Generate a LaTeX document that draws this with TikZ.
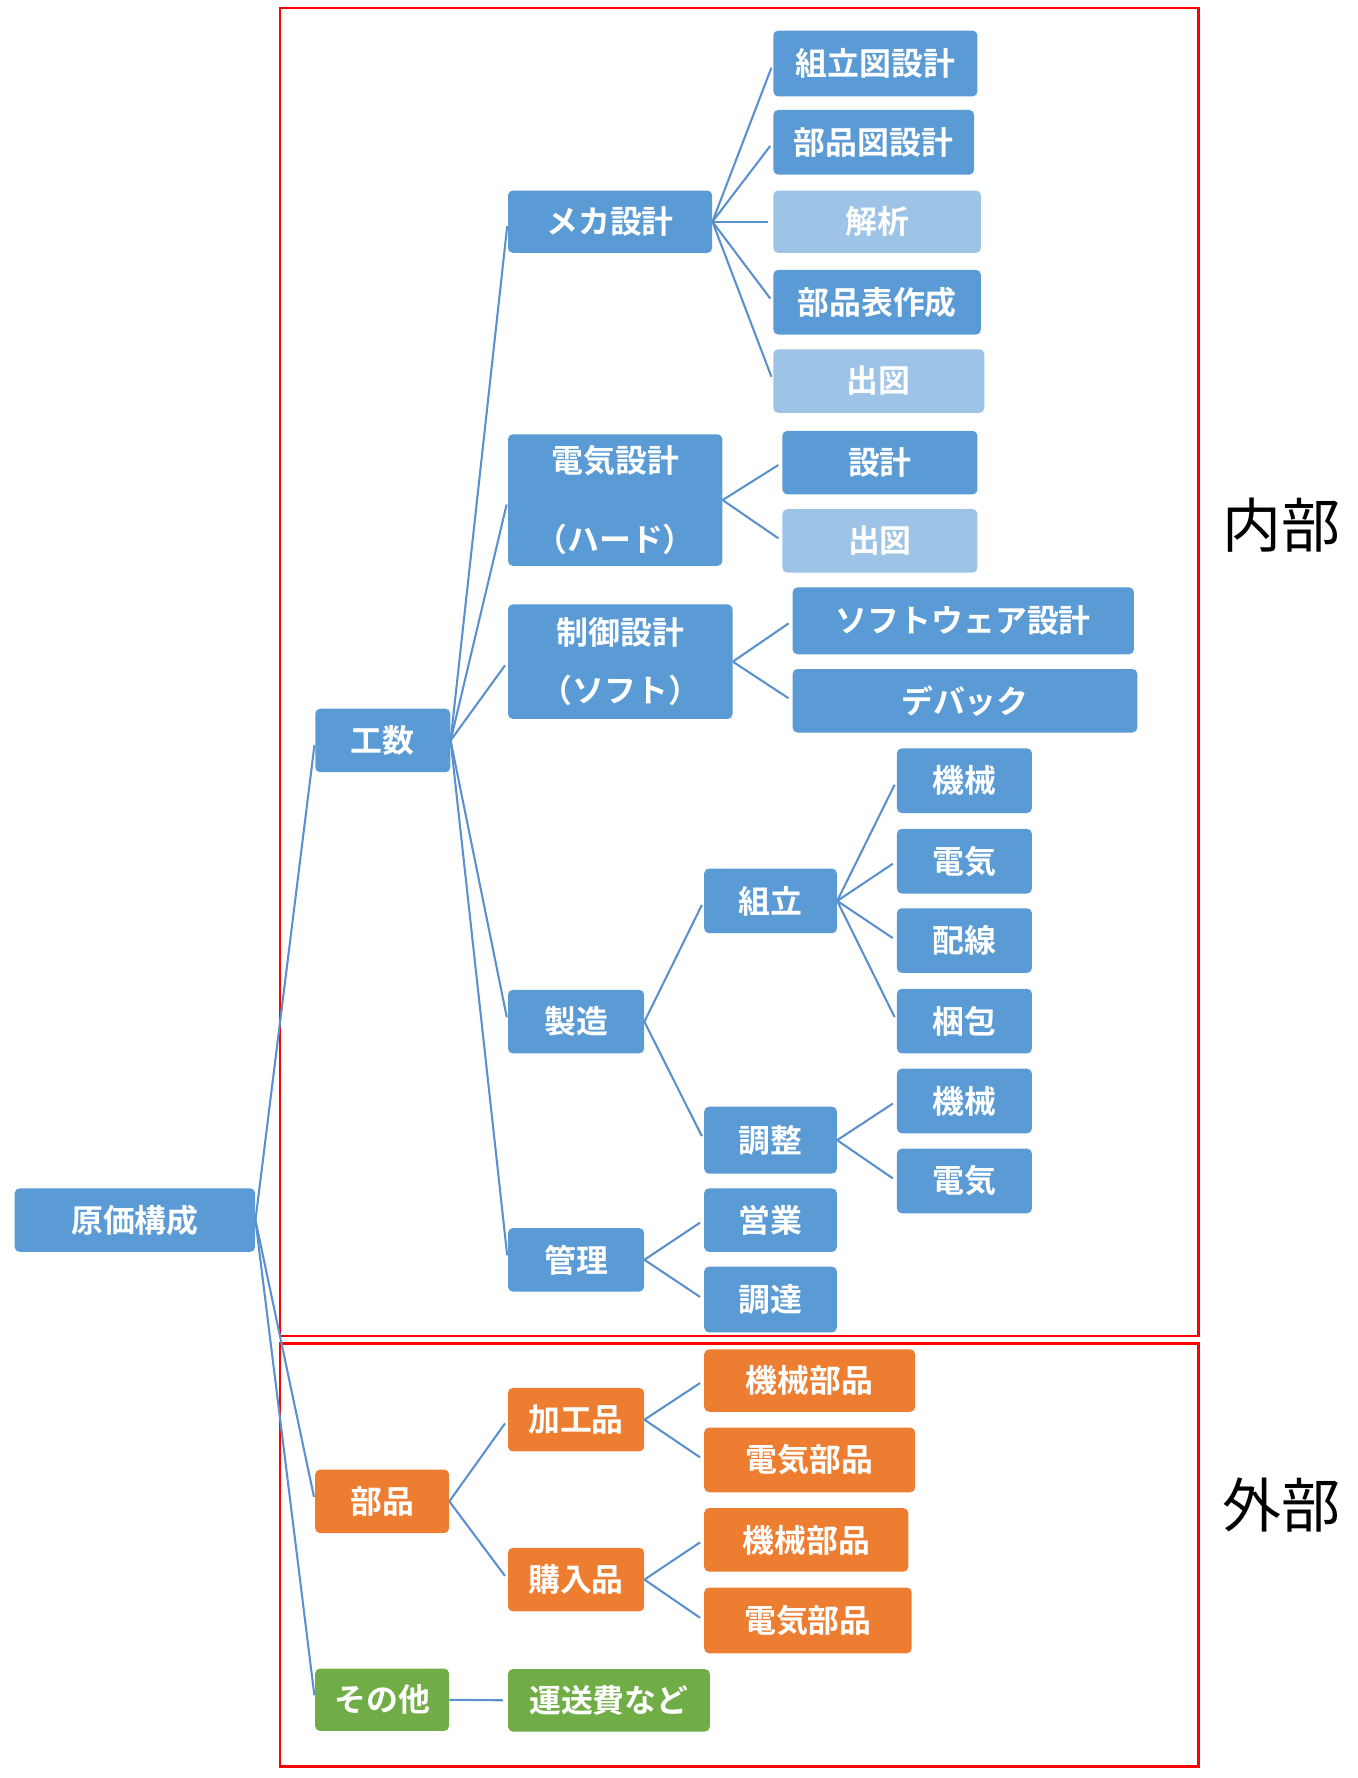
\documentclass[tikz,border=0pt]{standalone}
\usepackage{fontspec}
\newfontfamily\jp{Noto Sans CJK JP}[BoldFont={Noto Sans CJK JP Bold}]
\usetikzlibrary{positioning}
\definecolor{blu}{HTML}{5B9BD5}
\definecolor{lblu}{HTML}{9DC3E6}
\definecolor{orng}{HTML}{ED7D31}
\definecolor{grn}{HTML}{70AD47}
\definecolor{lnc}{HTML}{5A90CC}

\begin{document}
\begin{tikzpicture}[
    box/.style={fill=blu,rounded corners=3pt,text=white,inner sep=0pt,
      font=\jp\bfseries\fontsize{20}{24}\selectfont,align=center,minimum height=1.4cm},
    lbox/.style={box,fill=lblu},
    obox/.style={box,fill=orng},
    gbox/.style={box,fill=grn},
    ln/.style={lnc,line width=1.3pt,shorten >=0.1cm},
    area/.style={red,line width=1.6pt}]
  \useasboundingbox (0,0) rectangle (29.925,-39.2);
  \draw[area] (6.175,-0.175) rectangle (26.425,-29.45);
  \draw[area] (6.175,-29.625) rectangle (26.425,-38.95);
  \node[font=\jp\fontsize{37}{40}\selectfont] (naibu) at (28.25,-11.575) {内部};
  \node[font=\jp\fontsize{37}{40}\selectfont] (gaibu) at (28.25,-33.175) {外部};

  % root and first level
  \node[box,minimum width=5.3cm] (root) at (2.975,-26.9) {原価構成};
  \node[box,minimum width=2.975cm] (kosu) at (8.44,-16.325) {工数};
  \node[obox,minimum width=2.95cm] (buhin) at (8.425,-33.1) {部品};
  \node[gbox,minimum width=2.95cm,minimum height=1.375cm] (sonota) at (8.425,-37.475) {その他};

  % second level
  \node[box,minimum width=4.5cm,minimum height=1.375cm] (meka) at (13.45,-4.8875) {メカ設計};
  \node[box,minimum width=4.725cm,minimum height=2.9cm] (hard) at (13.5625,-11.025) {電気設計\\[0.9cm]（ハード）};
  \node[box,minimum width=4.95cm,minimum height=2.525cm] (seigyo) at (13.675,-14.5875) {制御設計\\[0.43cm]（ソフト）};
  \node[box,minimum width=3cm] (seizo) at (12.7,-22.525) {製造};
  \node[box,minimum width=3cm] (kanri) at (12.7,-27.775) {管理};
  \node[obox,minimum width=3cm] (kako) at (12.7,-31.3) {加工品};
  \node[obox,minimum width=3cm] (konyu) at (12.7,-34.825) {購入品};
  \node[gbox,minimum width=4.45cm,minimum height=1.375cm] (unso) at (13.425,-37.4875) {運送費など};

  % third level
  \node[box,minimum width=4.5cm,minimum height=1.45cm] (kumizu) at (19.3,-1.4) {組立図設計};
  \node[box,minimum width=4.425cm,minimum height=1.425cm] (buhinzu) at (19.2625,-3.1375) {部品図設計};
  \node[lbox,minimum width=4.575cm,minimum height=1.375cm] (kaiseki) at (19.3375,-4.8875) {解析};
  \node[box,minimum width=4.575cm,minimum height=1.425cm] (buhinhyo) at (19.3375,-6.6625) {部品表作成};
  \node[lbox,minimum width=4.65cm] (shutsuzuA) at (19.375,-8.4) {出図};
  \node[box,minimum width=4.3cm] (sekkei) at (19.4,-10.2) {設計};
  \node[lbox,minimum width=4.3cm] (shutsuzuB) at (19.4,-11.925) {出図};
  \node[box,minimum width=7.525cm,minimum height=1.475cm] (soft) at (21.2375,-13.6875) {ソフトウェア設計};
  \node[box,minimum width=7.6cm] (debug) at (21.275,-15.45) {デバック};
  \node[box,minimum width=2.925cm,minimum height=1.425cm] (kumitate) at (16.9875,-19.8625) {組立};
  \node[box,minimum width=2.925cm,minimum height=1.475cm] (chosei) at (16.9875,-25.1375) {調整};
  \node[box,minimum width=2.925cm] (eigyo) at (16.9875,-26.9) {営業};
  \node[box,minimum width=2.925cm,minimum height=1.45cm] (chotatsu) at (16.9875,-28.65) {調達};
  \node[obox,minimum width=4.65cm,minimum height=1.375cm] (kikaibuA) at (17.85,-30.4375) {機械部品};
  \node[obox,minimum width=4.65cm,minimum height=1.425cm] (denkibuA) at (17.85,-32.1875) {電気部品};
  \node[obox,minimum width=4.5cm] (kikaibuB) at (17.775,-33.95) {機械部品};
  \node[obox,minimum width=4.575cm,minimum height=1.45cm] (denkibuB) at (17.8125,-35.725) {電気部品};

  % fourth level
  \node[box,minimum width=2.975cm,minimum height=1.425cm] (kikaiA) at (21.2625,-17.2125) {機械};
  \node[box,minimum width=2.975cm,minimum height=1.425cm] (denkiA) at (21.2625,-18.9875) {電気};
  \node[box,minimum width=2.975cm,minimum height=1.425cm] (haisen) at (21.2625,-20.7375) {配線};
  \node[box,minimum width=2.975cm,minimum height=1.425cm] (konpo) at (21.2625,-22.5125) {梱包};
  \node[box,minimum width=2.975cm,minimum height=1.425cm] (kikaiB) at (21.2625,-24.275) {機械};
  \node[box,minimum width=2.975cm,minimum height=1.425cm] (denkiB) at (21.2625,-26.0375) {電気};

  % connectors
  \draw[ln] (root.east) -- (kosu.west);
  \draw[ln] (root.east) -- (buhin.west);
  \draw[ln] (root.east) -- (sonota.west);
  \draw[ln] (kosu.east) -- (meka.west);
  \draw[ln] (kosu.east) -- (hard.west);
  \draw[ln] (kosu.east) -- (seigyo.west);
  \draw[ln] (kosu.east) -- (seizo.west);
  \draw[ln] (kosu.east) -- (kanri.west);
  \draw[ln] (meka.east) -- (kumizu.west);
  \draw[ln] (meka.east) -- (buhinzu.west);
  \draw[ln] (meka.east) -- (kaiseki.west);
  \draw[ln] (meka.east) -- (buhinhyo.west);
  \draw[ln] (meka.east) -- (shutsuzuA.west);
  \draw[ln] (hard.east) -- (sekkei.west);
  \draw[ln] (hard.east) -- (shutsuzuB.west);
  \draw[ln] (seigyo.east) -- (soft.west);
  \draw[ln] (seigyo.east) -- (debug.west);
  \draw[ln] (seizo.east) -- (kumitate.west);
  \draw[ln] (seizo.east) -- (chosei.west);
  \draw[ln] (kumitate.east) -- (kikaiA.west);
  \draw[ln] (kumitate.east) -- (denkiA.west);
  \draw[ln] (kumitate.east) -- (haisen.west);
  \draw[ln] (kumitate.east) -- (konpo.west);
  \draw[ln] (chosei.east) -- (kikaiB.west);
  \draw[ln] (chosei.east) -- (denkiB.west);
  \draw[ln] (kanri.east) -- (eigyo.west);
  \draw[ln] (kanri.east) -- (chotatsu.west);
  \draw[ln] (buhin.east) -- (kako.west);
  \draw[ln] (buhin.east) -- (konyu.west);
  \draw[ln] (kako.east) -- (kikaibuA.west);
  \draw[ln] (kako.east) -- (denkibuA.west);
  \draw[ln] (konyu.east) -- (kikaibuB.west);
  \draw[ln] (konyu.east) -- (denkibuB.west);
  \draw[ln] (sonota.east) -- (unso.west);
\end{tikzpicture}
\end{document}
